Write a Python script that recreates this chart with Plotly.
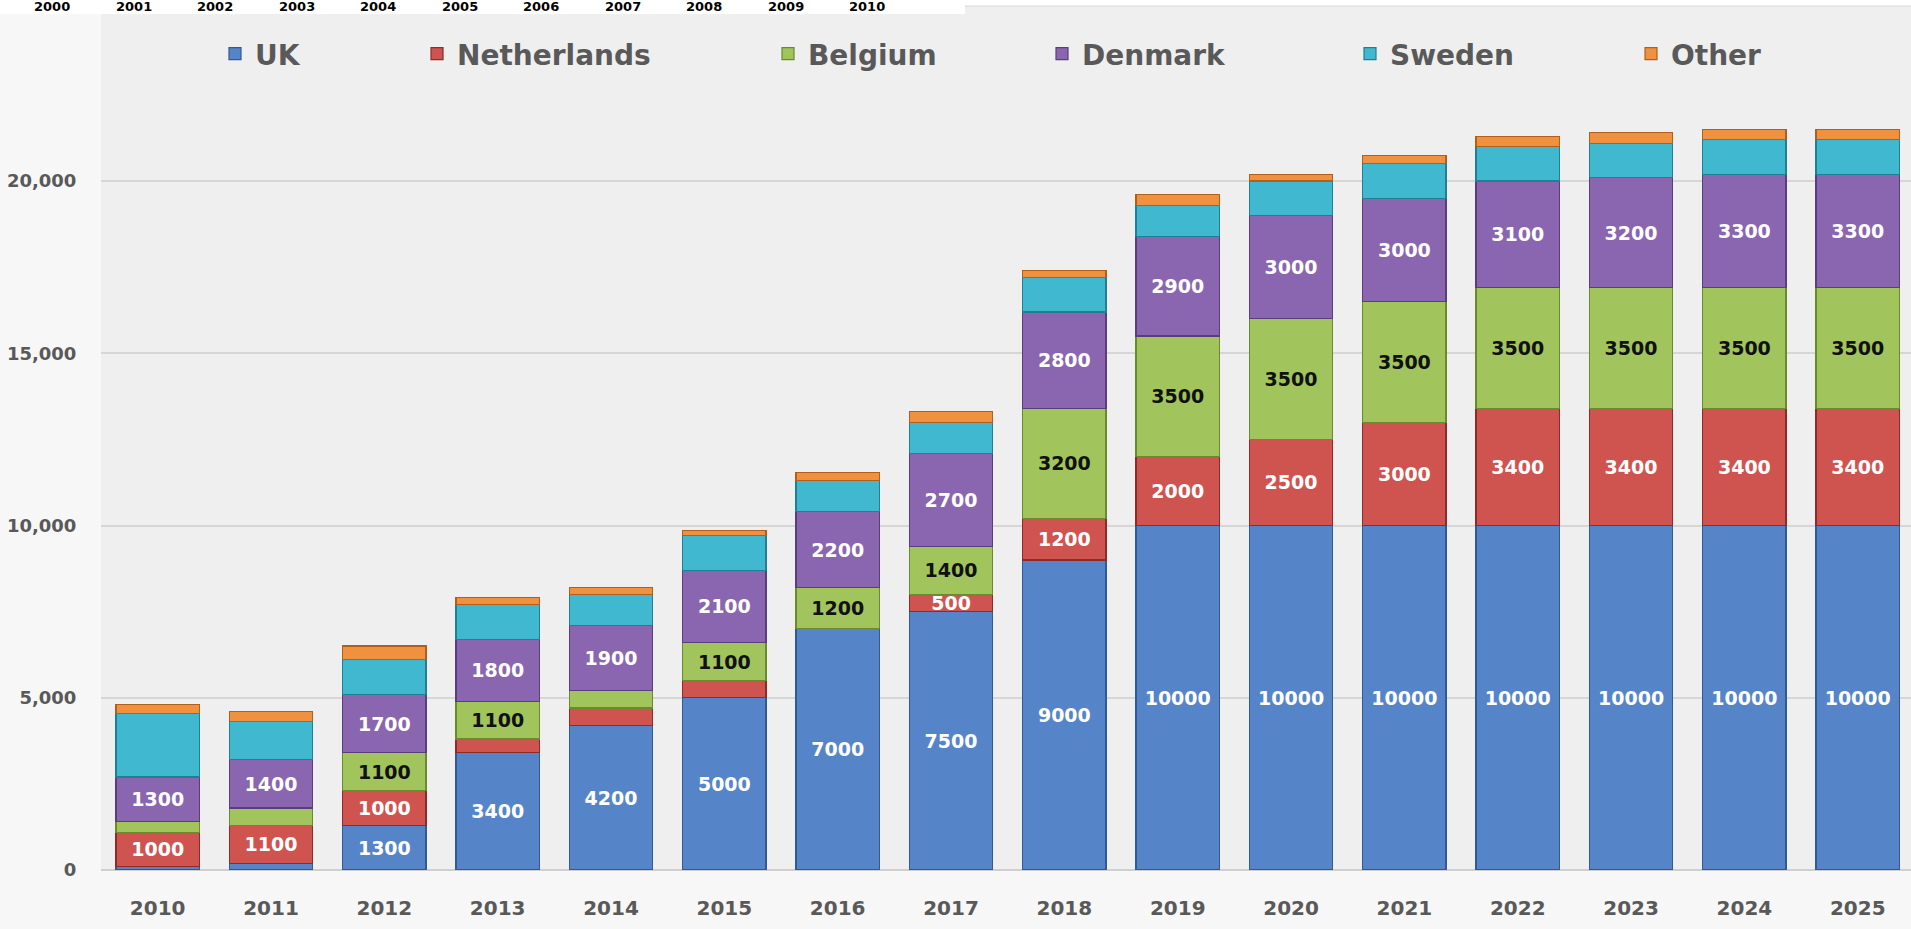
import plotly.graph_objects as go

# ---------------- data ----------------
years = ["2010", "2011", "2012", "2013", "2014", "2015", "2016", "2017",
         "2018", "2019", "2020", "2021", "2022", "2023", "2024", "2025"]

uk = [100, 200, 1300, 3400, 4200, 5000, 7000, 7500, 9000, 10000, 10000, 10000, 10000, 10000, 10000, 10000]
netherlands = [1000, 1100, 1000, 400, 500, 500, 0, 500, 1200, 2000, 2500, 3000, 3400, 3400, 3400, 3400]
belgium = [300, 500, 1100, 1100, 500, 1100, 1200, 1400, 3200, 3500, 3500, 3500, 3500, 3500, 3500, 3500]
denmark = [1300, 1400, 1700, 1800, 1900, 2100, 2200, 2700, 2800, 2900, 3000, 3000, 3100, 3200, 3300, 3300]
sweden = [1850, 1100, 1000, 1000, 900, 1000, 900, 900, 1000, 900, 1000, 1000, 1000, 1000, 1000, 1000]
other = [250, 300, 400, 200, 200, 150, 250, 300, 200, 300, 200, 250, 300, 300, 300, 300]

# which segments carry a printed value
uk_shown = [0, 0, 1, 1, 1, 1, 1, 1, 1, 1, 1, 1, 1, 1, 1, 1]
nl_shown = [1, 1, 1, 0, 0, 0, 0, 1, 1, 1, 1, 1, 1, 1, 1, 1]
be_shown = [0, 0, 1, 1, 0, 1, 1, 1, 1, 1, 1, 1, 1, 1, 1, 1]
dk_shown = [1] * 16
se_shown = [0] * 16
ot_shown = [0] * 16

y_ticks = [0, 5000, 10000, 15000, 20000]
strip_years = ["2000", "2001", "2002", "2003", "2004", "2005", "2006",
               "2007", "2008", "2009", "2010"]

# ---------------- layout geometry ----------------
W, H = 1911, 929
ML, MR, MT, MB = 101, 0, 0, 59
PW = W - ML - MR
PH = H - MT - MB


def px_x(px):
    return (px - ML) / PW


def px_y(py):
    return 1 - (py - MT) / PH


FONT = "DejaVu Sans"
GREY_TXT = "#595959"

series = [
    ("UK", uk, uk_shown, "#5585c8", "#2f5a94", "white", 257),
    ("Netherlands", netherlands, nl_shown, "#cf5450", "#8e2a27", "white", 459),
    ("Belgium", belgium, be_shown, "#a2c45c", "#6a8a2c", "#111111", 810),
    ("Denmark", denmark, dk_shown, "#8a66b0", "#593d7c", "white", 1084),
    ("Sweden", sweden, se_shown, "#40b8d0", "#1f7f93", "white", 1392),
    ("Other", other, ot_shown, "#f0913f", "#b0601c", "white", 1673),
]

fig = go.Figure()
layout_legends = {}
for i, (name, vals, shown, col, edge, tcol, text_px) in enumerate(series):
    lname = "legend" if i == 0 else f"legend{i + 1}"
    texts = [str(v) if s else "" for v, s in zip(vals, shown)]
    fig.add_trace(go.Bar(
        name=name, x=years, y=vals, text=texts,
        textposition="inside", insidetextanchor="middle",
        textfont=dict(family=FONT, size=19, weight="bold", color=tcol),
        marker=dict(color=col, line=dict(color=edge, width=1.2)),
        legend=lname, hoverinfo="x+y+name",
    ))
    layout_legends[lname] = dict(
        xref="paper", yref="paper",
        x=px_x(text_px - 42), y=px_y(54),
        xanchor="left", yanchor="middle",
        orientation="h", bgcolor="rgba(0,0,0,0)",
        font=dict(family=FONT, size=28, weight="bold", color=GREY_TXT),
    )

shapes = [
    # white strip pasted over the top-left
    dict(type="rect", xref="paper", yref="paper",
         x0=px_x(0), x1=px_x(965), y0=px_y(14), y1=px_y(0),
         fillcolor="white", line=dict(width=0), layer="above"),
    dict(type="rect", xref="paper", yref="paper",
         x0=px_x(965), x1=px_x(W), y0=px_y(6), y1=px_y(0),
         fillcolor="white", line=dict(width=0), layer="above"),
    dict(type="line", xref="paper", yref="paper",
         x0=px_x(965), x1=px_x(W), y0=px_y(6), y1=px_y(6),
         line=dict(color="#d8d8d8", width=1), layer="above"),
]

annotations = []
for k, t in enumerate(strip_years):
    annotations.append(dict(
        text=t, xref="paper", yref="paper",
        x=px_x(52 + 81.5 * k), y=px_y(7),
        xanchor="center", yanchor="middle", showarrow=False,
        font=dict(family=FONT, size=13, weight="bold", color="black"),
    ))

fig.update_layout(
    width=W, height=H,
    margin=dict(l=ML, r=MR, t=MT, b=MB, pad=0, autoexpand=False),
    barmode="stack", bargap=0.265,
    paper_bgcolor="#f7f7f7", plot_bgcolor="#efefef",
    showlegend=True,
    uniformtext=dict(minsize=19, mode="show"),
    shapes=shapes, annotations=annotations,
    xaxis=dict(
        type="category", range=[-0.5, 15.47],
        showgrid=False, zeroline=False, showline=False,
        ticks="outside", ticklen=20, tickcolor="rgba(0,0,0,0)",
        tickfont=dict(family=FONT, size=20, weight="bold", color=GREY_TXT),
    ),
    yaxis=dict(
        range=[0, 25254], tickvals=y_ticks, tickformat=",d",
        showgrid=True, gridcolor="#d6d6d6", gridwidth=1.5,
        zeroline=True, zerolinecolor="#cfcfcf", zerolinewidth=1.5,
        showline=False,
        ticks="outside", ticklen=20, tickcolor="rgba(0,0,0,0)",
        tickfont=dict(family=FONT, size=18, weight="bold", color=GREY_TXT),
    ),
    **layout_legends,
)

fig.write_html(
    "out.html",
    config={"displayModeBar": False},
    post_script="document.body.style.margin='0';document.body.style.overflow='hidden';",
)
